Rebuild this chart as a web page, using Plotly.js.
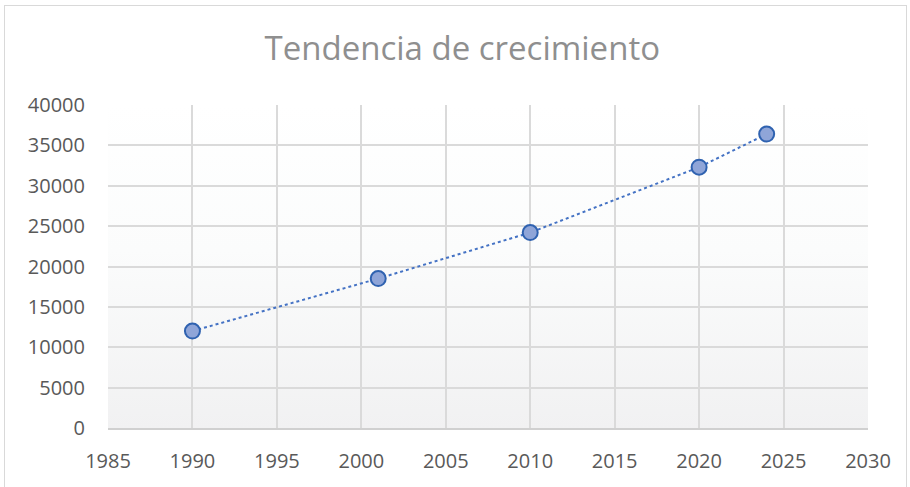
<!DOCTYPE html>
<html>
<head>
<meta charset="utf-8">
<script src="https://cdn.plot.ly/plotly-3.0.1.min.js"></script>
<style>
  html, body { margin: 0; padding: 0; background: #ffffff; width: 910px; height: 487px; overflow: hidden; }
  #frame { position: absolute; left: 4px; top: 5px; width: 903px; height: 500px; border: 1.5px solid #d9d9d9; box-sizing: border-box; }
  #chart { position: absolute; left: 0; top: 0; width: 910px; height: 487px; }
</style>
</head>
<body>
<div id="frame"></div>
<div id="chart"></div>
<script>
const years = [1990, 2001, 2010, 2020, 2024];
const values = [12000, 18500, 24200, 32300, 36400];
const xTicks = [1985, 1990, 1995, 2000, 2005, 2010, 2015, 2020, 2025, 2030];
const yTicks = [0, 5000, 10000, 15000, 20000, 25000, 30000, 35000, 40000];
const chartTitle = 'Tendencia de crecimiento';

const svg = '<svg xmlns="http://www.w3.org/2000/svg" width="10" height="100" preserveAspectRatio="none">' +
  '<defs><linearGradient id="g" x1="0" y1="0" x2="0" y2="1">' +
  '<stop offset="0" stop-color="#ffffff"/><stop offset="0.45" stop-color="#fbfcfc"/><stop offset="1" stop-color="#f1f1f2"/>' +
  '</linearGradient></defs><rect width="10" height="100" fill="url(#g)"/></svg>';
const bgSrc = 'data:image/svg+xml;charset=utf-8,' + encodeURIComponent(svg);

const trace = {
  x: years,
  y: values,
  type: 'scatter',
  mode: 'lines+markers',
  line: { color: '#4472C4', width: 2, dash: 'dot' },
  marker: { size: 15, color: '#8FA5D8', line: { color: '#2F62B0', width: 2 } },
  hoverinfo: 'x+y',
  showlegend: false
};

const tickFont = { family: 'Open Sans, sans-serif', size: 20, color: '#595959' };

const layout = {
  width: 910,
  height: 487,
  paper_bgcolor: 'rgba(0,0,0,0)',
  plot_bgcolor: 'rgba(0,0,0,0)',
  margin: { l: 107.5, r: 42, t: 105, b: 59, pad: 0 },
  title: {
    text: chartTitle,
    font: { family: 'Open Sans, sans-serif', size: 33, color: '#8f8f8f' },
    x: 0.508, xref: 'container', xanchor: 'center',
    y: 0.9, yref: 'container', yanchor: 'middle'
  },
  xaxis: {
    range: [1985, 2030],
    tickvals: xTicks,
    ticktext: xTicks.map(String),
    showgrid: true,
    gridcolor: '#dadada',
    gridwidth: 1.5,
    zeroline: false,
    showline: true,
    linecolor: '#d0d0d0',
    linewidth: 2,
    ticks: '',
    ticklabelstandoff: 14,
    tickfont: tickFont,
    fixedrange: true
  },
  yaxis: {
    range: [0, 40000],
    tickvals: yTicks,
    ticktext: yTicks.map(String),
    showgrid: true,
    gridcolor: '#dadada',
    gridwidth: 1.5,
    zeroline: false,
    showline: false,
    ticks: '',
    ticklabelstandoff: 22,
    tickfont: tickFont,
    fixedrange: true
  },
  images: [{
    source: bgSrc,
    xref: 'paper', yref: 'paper',
    x: 0, y: 1, sizex: 1, sizey: 1,
    xanchor: 'left', yanchor: 'top',
    sizing: 'stretch',
    layer: 'below'
  }]
};

Plotly.newPlot('chart', [trace], layout, { displayModeBar: false, staticPlot: false });
</script>
</body>
</html>
